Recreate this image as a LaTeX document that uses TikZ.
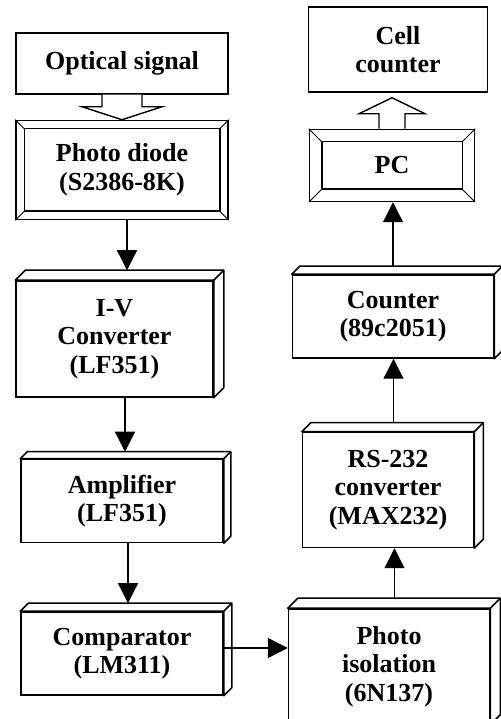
\documentclass[tikz,border=0pt]{standalone}
\usepackage{fontspec}
\setmainfont{Liberation Serif}
\usetikzlibrary{arrows.meta,positioning,calc}

\tikzset{
  every node/.style={font=\fontsize{26}{28.5}\selectfont\bfseries, align=center, inner sep=0pt},
  boxsize/.style 2 args={minimum width=#1pt, minimum height=#2pt},
  flatbox/.style={draw, line width=1.5pt},
  slabbox/.style={draw, line width=1.5pt, append after command={\pgfextra{
    \draw[line width=1.5pt, fill=white, line join=round]
      (\tikzlastnode.north west) -- ++(#1,#1) -- ([shift={(#1,#1)}]\tikzlastnode.north east)
      -- ([shift={(#1,#1)}]\tikzlastnode.south east) -- (\tikzlastnode.south east)
      -- (\tikzlastnode.north east) -- cycle;
    \draw[line width=1.5pt] (\tikzlastnode.north east) -- ++(#1,#1);
  }}},
  bevelbox/.style={draw, line width=1.5pt, append after command={\pgfextra{
    \draw[line width=1.5pt] ([shift={(#1,-#1)}]\tikzlastnode.north west)
      rectangle ([shift={(-#1,#1)}]\tikzlastnode.south east);
    \foreach \corner/\dx/\dy in {north west/1/-1, north east/-1/-1, south west/1/1, south east/-1/1}
      \draw[line width=1pt] (\tikzlastnode.\corner) -- ++(\dx*#1,\dy*#1);
  }}},
  arr/.style={line width=1.3pt, -{Triangle[length=20pt, width=20pt]}},
  hollow/.style={line width=1.4pt, fill=white, line join=miter}
}

\begin{document}
\begin{tikzpicture}
\useasboundingbox (0,0) rectangle (500pt,719pt);
% left column
\node (optical) [flatbox, boxsize={212}{61}] at (122pt,655.5pt) {Optical signal};
\node (diode) [bevelbox=9pt, boxsize={212}{99}, below=25pt of optical] {Photo diode\\(S2386-8K)};
\node (iv) [slabbox=10pt, boxsize={197}{116}, below=60pt of diode, xshift=-7.5pt] {I-V\\Converter\\(LF351)};
\node (amp) [slabbox=7pt, boxsize={202}{83}, below=61pt of iv, xshift=7.5pt] {Amplifier\\(LF351)};
\node (comp) [slabbox=8pt, boxsize={202}{83}, below=68pt of amp] {Comparator\\(LM311)};
% right column
\node (iso) [slabbox=10pt, boxsize={201}{115}, right=64pt of comp, yshift=-13pt] {Photo\\isolation\\(6N137)};
\node (rs) [slabbox=9pt, boxsize={171}{115}, above=60pt of iso, xshift=-1pt] {RS-232\\converter\\(MAX232)};
\node (counter) [slabbox=8pt, boxsize={201}{83}, above=73pt of rs, xshift=5pt] {Counter\\(89c2051)};
\node (pc) [bevelbox=13pt, boxsize={165}{72}, above=72pt of counter, xshift=-1pt] {PC};
\node (cell) [flatbox, boxsize={179}{85}, above=36pt of pc, xshift=6pt] {Cell\\counter};

% hollow arrows
\draw[hollow] ([xshift=-20pt]optical.south) -- ++(0,-12pt) -- ++(-20pt,0)
  -- (diode.north) -- ++(40pt,13pt) -- ++(-20pt,0) -- ([xshift=20pt]optical.south);
\draw[hollow] ([xshift=-13pt]pc.north) -- ++(0,15pt) -- ++(-20pt,0)
  -- ++(33pt,16pt) -- ++(33pt,-16pt) -- ++(-20pt,0) -- ([xshift=13pt]pc.north);

% signal path
\draw[arr] ([xshift=5pt]diode.south) -- ($(diode.south |- iv.north)+(5pt,10pt)$);
\draw[arr] ([xshift=10.5pt]iv.south) -- ($(iv.south |- amp.north)+(10.5pt,7pt)$);
\draw[arr] ([xshift=6pt]amp.south) -- ($(amp.south |- comp.north)+(6pt,8pt)$);
\draw[arr] ([yshift=5.5pt]comp.east) -- ($(iso.west |- comp.east)+(0,5.5pt)$);
\draw[arr] ($(iso.north)+(5.5pt,10pt)$) -- ($(iso.north |- rs.south)+(5.5pt,0)$);
\draw[arr] ($(rs.north)+(5.5pt,9pt)$) -- ($(rs.north |- counter.south)+(5.5pt,0)$);
\draw[arr] ($(counter.north)+(0,8pt)$) -- (counter.north |- pc.south);
\end{tikzpicture}
\end{document}
